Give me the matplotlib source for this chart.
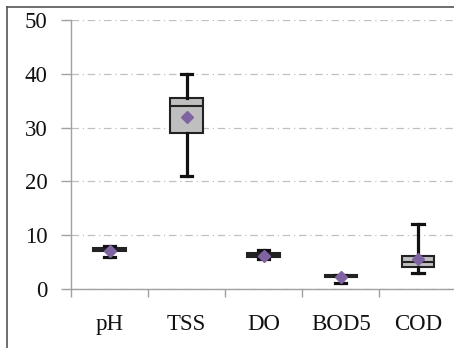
import matplotlib
matplotlib.use('Agg')
import matplotlib.pyplot as plt
from matplotlib.lines import Line2D

params = ['pH', 'TSS', 'DO', 'BOD5', 'COD']
whis_lo = [6.0, 21.0, 5.5, 1.2, 3.0]
q1 = [7.0, 29.0, 6.0, 2.2, 4.0]
med = [7.3, 34.0, 6.3, 2.4, 5.0]
q3 = [7.6, 35.5, 6.6, 2.6, 6.1]
whis_hi = [7.9, 40.0, 7.3, 2.6, 12.0]
means = [7.0, 32.0, 6.2, 2.2, 5.5]

plt.rcParams['font.family'] = ['Liberation Serif', 'DejaVu Serif']

fig = plt.figure(figsize=(4.54, 3.48), dpi=100)
ax = fig.add_axes([71 / 454, 1 - 289 / 348, 1 - 71 / 454, (289 - 20) / 348])

stats = []
for i, name in enumerate(params):
    stats.append({'label': name, 'whislo': whis_lo[i], 'q1': q1[i], 'med': med[i],
                  'q3': q3[i], 'whishi': whis_hi[i], 'fliers': [], 'mean': means[i]})

pos = list(range(len(params)))
ax.bxp(stats, positions=pos, widths=0.42, patch_artist=True, showmeans=True,
       showfliers=False,
       boxprops=dict(facecolor='#BFBFBF', edgecolor='#222222', linewidth=1.5),
       medianprops=dict(color='#222222', linewidth=1.5),
       whiskerprops=dict(color='#111111', linewidth=2.3),
       capprops=dict(color='#111111', linewidth=2.3),
       capwidths=0.15,
       meanprops=dict(marker='D', markerfacecolor='#8064A2', markeredgecolor='#8064A2',
                      markersize=6.5))

ax.set_ylim(0, 50)
ax.set_xlim(-0.5, 4.47)
ax.set_yticks([0, 10, 20, 30, 40, 50])
ax.yaxis.grid(True, color='#C0C0C0', linestyle=(0, (6, 3, 1, 3)), linewidth=0.9)
ax.set_axisbelow(True)

ax.set_xticks(pos)
ax.set_xticklabels(params)
ax.set_xticks([0.5, 1.5, 2.5, 3.5, -0.5], minor=True)
ax.tick_params(axis='x', which='major', length=0, pad=18, labelsize=16.5, labelcolor='#111111')
ax.tick_params(axis='x', which='minor', length=6, color='#A0A0A0', width=1)
ax.tick_params(axis='y', length=7, pad=10, labelsize=16.5, color='#A0A0A0', width=1,
               labelcolor='#111111')

for side in ['top', 'right']:
    ax.spines[side].set_visible(False)
for side in ['left', 'bottom']:
    ax.spines[side].set_color('#A0A0A0')
    ax.spines[side].set_linewidth(1)

# outer frame around the chart area
fig.add_artist(Line2D([7 / 454, 7 / 454], [0, 1 - 7 / 348], color='#555555', linewidth=1.2))
fig.add_artist(Line2D([7 / 454, 1], [1 - 7 / 348, 1 - 7 / 348], color='#555555', linewidth=1.2))

fig.savefig('out.png', dpi=100)
